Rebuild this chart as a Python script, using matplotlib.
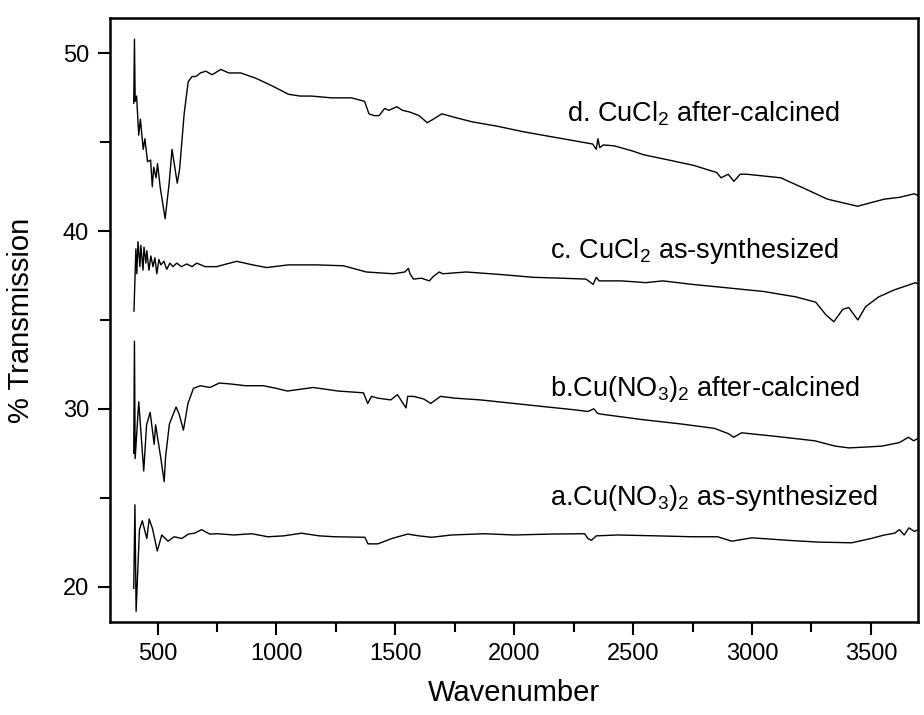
import matplotlib
matplotlib.use("Agg")
import matplotlib.pyplot as plt
from matplotlib.ticker import MultipleLocator

plt.rcParams['font.family'] = ['Liberation Sans', 'DejaVu Sans']
plt.rcParams['mathtext.fontset'] = 'custom'
plt.rcParams['mathtext.rm'] = 'Liberation Sans'
plt.rcParams['mathtext.it'] = 'Liberation Sans:italic'

# d. CuCl2 after-calcined
d_x = [400, 403, 406, 412, 421, 428, 440, 447, 458, 471, 478, 484, 494, 500, 512,
       532, 549, 561, 583, 593, 612, 629, 645, 662, 680, 703, 730, 766, 800, 850,
       914, 978, 1051, 1100, 1148, 1230, 1316, 1371, 1389, 1410, 1432, 1455, 1473,
       1506, 1530, 1561, 1600, 1634, 1660, 1696, 1750, 1823, 1930, 2035, 2140, 2246,
       2330, 2345, 2352, 2360, 2375, 2420, 2500, 2543, 2650, 2754, 2851, 2870, 2900,
       2924, 2950, 2978, 3050, 3121, 3220, 3317, 3380, 3444, 3500, 3557, 3620, 3682, 3700]
d_y = [47.2, 50.8, 47.3, 47.6, 45.4, 46.3, 44.6, 45.2, 43.9, 44.0, 42.5, 43.6, 43.0, 43.8, 42.4,
       40.7, 42.7, 44.6, 42.7, 43.5, 46.6, 48.4, 48.7, 48.7, 48.9, 49.0, 48.8, 49.1, 48.9, 48.9,
       48.6, 48.2, 47.7, 47.6, 47.6, 47.5, 47.5, 47.3, 46.6, 46.5, 46.5, 46.9, 46.8,
       47.0, 46.8, 46.7, 46.5, 46.1, 46.3, 46.6, 46.4, 46.15, 45.9, 45.6, 45.35, 45.1,
       44.9, 44.6, 45.2, 44.7, 44.85, 44.8, 44.5, 44.3, 44.0, 43.7, 43.3, 43.0, 43.2,
       42.8, 43.2, 43.2, 43.1, 43.0, 42.4, 41.8, 41.6, 41.4, 41.6, 41.8, 41.9, 42.1, 42.0]

# c. CuCl2 as-synthesized
c_x = [401, 409, 413, 418, 426, 430, 439, 443, 451, 455, 464, 472, 481, 489, 497,
       506, 514, 527, 539, 552, 565, 581, 600, 623, 645, 665, 700, 749, 790, 833,
       900, 959, 1050, 1168, 1282, 1378, 1492, 1540, 1555, 1562, 1576, 1610, 1643,
       1660, 1685, 1700, 1798, 1950, 2080, 2200, 2302, 2332, 2345, 2357, 2450, 2554,
       2625, 2750, 2902, 3050, 3184, 3268, 3310, 3344, 3382, 3407, 3445, 3478, 3533,
       3600, 3688, 3700]
c_y = [35.5, 39.0, 37.6, 39.4, 38.0, 39.2, 37.8, 39.1, 38.2, 38.9, 37.8, 38.6, 38.0, 38.5, 37.6,
       38.4, 38.1, 38.3, 37.85, 38.2, 38.0, 38.2, 38.0, 38.15, 38.0, 38.2, 38.0, 38.0, 38.15, 38.3,
       38.1, 37.95, 38.1, 38.1, 38.05, 37.7, 37.6, 37.7, 37.9, 37.6, 37.3, 37.35, 37.2,
       37.45, 37.7, 37.6, 37.7, 37.55, 37.4, 37.35, 37.3, 37.0, 37.4, 37.2, 37.2, 37.1,
       37.2, 37.0, 36.8, 36.6, 36.3, 36.0, 35.3, 34.9, 35.6, 35.7, 35.0, 35.75, 36.3,
       36.7, 37.1, 37.0]

# b. Cu(NO3)2 after-calcined
b_x = [400, 403, 406, 421, 442, 454, 469, 486, 492, 513, 528, 534, 550, 578, 591,
       609, 628, 651, 680, 720, 760, 806, 870, 945, 1000, 1046, 1100, 1155, 1260, 1366,
       1384, 1400, 1426, 1481, 1509, 1545, 1552, 1577, 1620, 1649, 1690, 1750, 1859, 2000,
       2141, 2250, 2310, 2335, 2350, 2365, 2450, 2534, 2700, 2842, 2901, 2923, 2956, 3100,
       3264, 3350, 3408, 3480, 3546, 3620, 3658, 3680, 3700]
b_y = [27.5, 33.8, 27.2, 30.4, 26.5, 29.1, 29.8, 28.0, 29.1, 27.3, 25.9, 27.3, 29.15, 30.1, 29.7,
       28.8, 30.3, 31.15, 31.3, 31.2, 31.45, 31.4, 31.3, 31.3, 31.15, 31.0, 31.1, 31.2, 31.0, 30.9,
       30.3, 30.7, 30.6, 30.5, 30.8, 30.05, 30.7, 30.7, 30.55, 30.3, 30.7, 30.6, 30.5, 30.3,
       30.1, 29.95, 29.85, 30.0, 29.75, 29.7, 29.55, 29.4, 29.15, 28.9, 28.6, 28.4, 28.65, 28.45,
       28.2, 27.9, 27.8, 27.85, 27.9, 28.1, 28.4, 28.2, 28.35]

# a. Cu(NO3)2 as-synthesized
a_x = [400, 405, 410, 424, 436, 455, 465, 479, 499, 518, 544, 570, 602, 630, 656,
       685, 720, 753, 820, 896, 964, 1030, 1106, 1180, 1245, 1372, 1385, 1427, 1485,
       1552, 1600, 1653, 1737, 1876, 2000, 2150, 2296, 2310, 2325, 2345, 2435, 2600,
       2750, 2855, 2915, 2999, 3150, 3276, 3419, 3500, 3557, 3600, 3620, 3640, 3660, 3683, 3700]
a_y = [19.9, 24.6, 18.6, 23.2, 23.7, 22.7, 23.8, 23.25, 22.0, 22.9, 22.55, 22.8, 22.7, 22.95, 23.0,
       23.2, 22.95, 22.97, 22.9, 22.97, 22.8, 22.85, 23.0, 22.85, 22.8, 22.77, 22.4, 22.4, 22.7,
       22.95, 22.85, 22.77, 22.9, 22.97, 22.9, 22.95, 22.97, 22.7, 22.6, 22.85, 22.9, 22.85,
       22.8, 22.8, 22.55, 22.74, 22.6, 22.5, 22.46, 22.7, 22.9, 23.0, 23.2, 22.9, 23.3, 23.1, 23.2]

labels = [r"d. CuCl$_2$ after-calcined",
          r"c. CuCl$_2$ as-synthesized",
          r"b.Cu(NO$_3$)$_2$ after-calcined",
          r"a.Cu(NO$_3$)$_2$ as-synthesized"]
label_x = [2220, 2150, 2150, 2150]
label_y = [46.6, 38.9, 31.1, 25.0]

fig = plt.figure(figsize=(9.24, 7.15), dpi=100)
ax = fig.add_axes([0.119, 0.13, 0.875, 0.845])

for xs, ys in [(d_x, d_y), (c_x, c_y), (b_x, b_y), (a_x, a_y)]:
    ax.plot(xs, ys, color='black', lw=1.0)

for lab, lx, ly in zip(labels, label_x, label_y):
    ax.text(lx, ly, lab, fontsize=19.5, va='center', ha='left')

ax.set_xlim(300, 3700)
ax.set_ylim(18, 52)
ax.xaxis.set_major_locator(MultipleLocator(500))
ax.xaxis.set_minor_locator(MultipleLocator(250))
ax.yaxis.set_major_locator(MultipleLocator(10))
ax.yaxis.set_minor_locator(MultipleLocator(5))
ax.tick_params(which='both', direction='out', width=1.5, labelsize=17, pad=6)
ax.tick_params(which='major', length=9)
ax.tick_params(which='minor', length=7)
for sp in ax.spines.values():
    sp.set_linewidth(1.8)

ax.set_xlabel("Wavenumber", fontsize=21, labelpad=10)
ax.set_ylabel("% Transmission", fontsize=21, labelpad=20)

fig.savefig("out.png", dpi=100)
